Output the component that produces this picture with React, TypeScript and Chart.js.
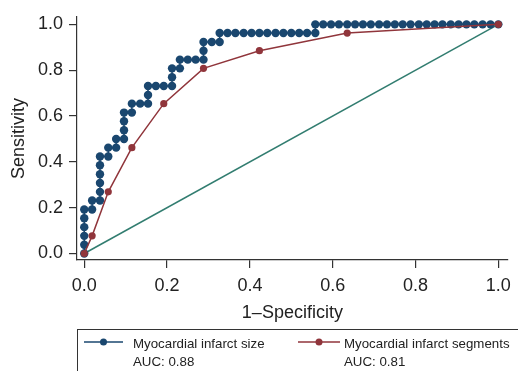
import React, { useEffect, useRef } from 'react';
import { Chart, registerables } from 'chart.js';

Chart.register(...registerables);

const xTickValues = [0, 0.2, 0.4, 0.6, 0.8, 1.0];
const yTickValues = [0, 0.2, 0.4, 0.6, 0.8, 1.0];

// Myocardial infarct size (1-specificity, sensitivity)
const blueFpr = [
  0, 0, 0, 0, 0, 0,
  0.019, 0.019,
  0.038, 0.038, 0.038, 0.038, 0.038, 0.038,
  0.058, 0.058,
  0.077, 0.077,
  0.096, 0.096, 0.096, 0.096,
  0.115, 0.115,
  0.135,
  0.154, 0.154, 0.154,
  0.173, 0.192,
  0.212, 0.212, 0.212,
  0.231, 0.231,
  0.25, 0.269,
  0.288, 0.288, 0.288,
  0.308,
  0.327, 0.327,
  0.346, 0.365, 0.385, 0.404, 0.423, 0.442, 0.462, 0.481, 0.5, 0.519, 0.538, 0.558,
  0.558, 0.577, 0.596, 0.615, 0.635, 0.654, 0.673, 0.692, 0.712, 0.731, 0.75, 0.769,
  0.788, 0.808, 0.827, 0.846, 0.865, 0.885, 0.904, 0.923, 0.942, 0.962, 0.981, 1.0,
];
const blueTpr = [
  0, 0.038, 0.077, 0.115, 0.154, 0.192,
  0.192, 0.231,
  0.231, 0.269, 0.308, 0.346, 0.385, 0.423,
  0.423, 0.462,
  0.462, 0.5,
  0.5, 0.538, 0.577, 0.615,
  0.615, 0.654,
  0.654,
  0.654, 0.692, 0.731,
  0.731, 0.731,
  0.731, 0.769, 0.808,
  0.808, 0.846,
  0.846, 0.846,
  0.846, 0.885, 0.923,
  0.923,
  0.923, 0.962,
  0.962, 0.962, 0.962, 0.962, 0.962, 0.962, 0.962, 0.962, 0.962, 0.962, 0.962, 0.962,
  1, 1, 1, 1, 1, 1, 1, 1, 1, 1, 1, 1,
  1, 1, 1, 1, 1, 1, 1, 1, 1, 1, 1, 1,
];

// Myocardial infarct segments
const redFpr = [0, 0.019, 0.058, 0.115, 0.192, 0.288, 0.423, 0.635, 1.0];
const redTpr = [0, 0.077, 0.269, 0.462, 0.654, 0.808, 0.885, 0.962, 1.0];

// Reference line
const refFpr = [0, 1];
const refTpr = [0, 1];

const seriesNames = ['Myocardial infarct size', 'Myocardial infarct segments'];
const aucLabels = ['AUC: 0.88', 'AUC: 0.81'];

const NAVY = 'rgb(26,71,111)';
const MAROON = 'rgb(144,53,59)';
const TEAL = 'rgb(50,125,112)';
const AXIS = '#333333';
const TEXT = '#222222';
const FONT = '"Liberation Sans", Arial, Helvetica, sans-serif';

const toPoints = (xs: number[], ys: number[]) => xs.map((x, i) => ({ x, y: ys[i] }));

const legendPlugin = {
  id: 'customLegend',
  afterDraw(chart: any) {
    const ctx = chart.ctx as CanvasRenderingContext2D;
    ctx.save();
    ctx.strokeStyle = AXIS;
    ctx.lineWidth = 1;
    ctx.strokeRect(77.5, 329.5, 470, 60);
    const entries = [
      { color: NAVY, x1: 84, x2: 123, r: 3.5, tx: 133 },
      { color: MAROON, x1: 298, x2: 340, r: 3.5, tx: 344 },
    ];
    entries.forEach((e, i) => {
      const y = 342;
      ctx.strokeStyle = e.color;
      ctx.lineWidth = 1.5;
      ctx.beginPath();
      ctx.moveTo(e.x1, y);
      ctx.lineTo(e.x2, y);
      ctx.stroke();
      ctx.fillStyle = e.color;
      ctx.beginPath();
      ctx.arc((e.x1 + e.x2) / 2, y, e.r, 0, Math.PI * 2);
      ctx.fill();
      ctx.fillStyle = TEXT;
      ctx.font = `13.3px ${FONT}`;
      ctx.textBaseline = 'alphabetic';
      ctx.textAlign = 'left';
      ctx.fillText(seriesNames[i], e.tx, 348);
      ctx.fillText(aucLabels[i], e.tx, 366);
    });
    ctx.restore();
  },
};

export default function App() {
  const canvasRef = useRef<HTMLCanvasElement | null>(null);

  useEffect(() => {
    const canvas = canvasRef.current;
    if (!canvas) return;
    const chart = new Chart(canvas, {
      type: 'scatter',
      data: {
        datasets: [
          {
            label: seriesNames[1],
            data: toPoints(redFpr, redTpr),
            showLine: true,
            borderColor: MAROON,
            borderWidth: 1.5,
            backgroundColor: MAROON,
            pointBackgroundColor: MAROON,
            pointBorderWidth: 0,
            pointRadius: 3.6,
          },
          {
            label: seriesNames[0],
            data: toPoints(blueFpr, blueTpr),
            showLine: true,
            borderColor: NAVY,
            borderWidth: 1.5,
            backgroundColor: NAVY,
            pointBackgroundColor: NAVY,
            pointBorderWidth: 0,
            pointRadius: 4.2,
          },
          {
            label: 'Reference',
            data: toPoints(refFpr, refTpr),
            showLine: true,
            borderColor: TEAL,
            borderWidth: 1.5,
            pointRadius: 0,
          },
        ],
      },
      options: {
        responsive: false,
        animation: false,
        events: [],
        layout: { padding: { top: 13, right: 6, left: 0, bottom: 0 } },
        plugins: {
          legend: { display: false },
          tooltip: { enabled: false },
        },
        scales: {
          x: {
            type: 'linear',
            position: 'bottom',
            min: -0.0175,
            max: 1.0227,
            afterBuildTicks: (scale: any) => {
              scale.ticks = xTickValues.map((v) => ({ value: v }));
            },
            afterFit: (scale: any) => {
              scale.height = 111;
            },
            grid: {
              drawOnChartArea: false,
              drawTicks: true,
              tickLength: 8,
              color: AXIS,
              lineWidth: 1.2,
            },
            border: { display: true, color: AXIS, width: 1.2 },
            ticks: {
              color: TEXT,
              font: { family: FONT, size: 18 },
              padding: 7,
              maxRotation: 0,
              callback: (v: any) => Number(v).toFixed(1),
            },
            title: {
              display: true,
              text: '1–Specificity',
              color: TEXT,
              font: { family: FONT, size: 18 },
              padding: { top: 0, bottom: 47 },
            },
          },
          y: {
            type: 'linear',
            position: 'left',
            min: -0.0284,
            max: 1.033,
            afterBuildTicks: (scale: any) => {
              scale.ticks = yTickValues.map((v) => ({ value: v }));
            },
            afterFit: (scale: any) => {
              scale.width = 77;
            },
            grid: {
              drawOnChartArea: false,
              drawTicks: true,
              tickLength: 8,
              color: AXIS,
              lineWidth: 1.2,
            },
            border: { display: true, color: AXIS, width: 1.2 },
            ticks: {
              color: TEXT,
              font: { family: FONT, size: 18 },
              padding: 6,
              callback: (v: any) => Number(v).toFixed(1),
            },
            title: {
              display: true,
              text: 'Sensitivity',
              color: TEXT,
              font: { family: FONT, size: 18 },
              padding: { top: 8.7, bottom: 0 },
            },
          },
        },
      },
      plugins: [legendPlugin],
    });
    return () => chart.destroy();
  }, []);

  return (
    <div style={{ position: 'absolute', left: 0, top: 0, width: 518, height: 371 }}>
      <canvas ref={canvasRef} width={518} height={371} style={{ display: 'block' }} />
    </div>
  );
}
